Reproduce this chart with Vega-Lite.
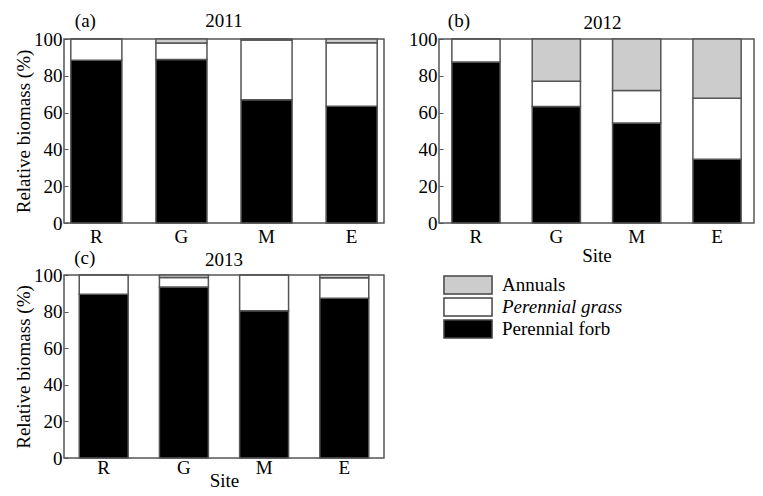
{
  "$schema": "https://vega.github.io/schema/vega-lite/v6.json",
  "background": "white",
  "padding": {"left": 13, "top": 11, "right": 0, "bottom": 0},
  "config": {
    "font": "Liberation Serif, Times New Roman, Times, serif",
    "view": {"stroke": "#555", "strokeWidth": 1.5},
    "axis": {"labelFontSize": 19, "titleFontSize": 19, "titleFontWeight": "normal", "labelColor": "black", "titleColor": "black", "domain": false, "grid": false, "labelFont": "Liberation Serif, Times New Roman, Times, serif", "titleFont": "Liberation Serif, Times New Roman, Times, serif", "labelOverlap": false},
    "axisY": {"tickSize": -4, "tickColor": "#555", "labelPadding": 6, "titlePadding": 0, "labelSeparation": 0},
    "axisX": {"ticks": false, "labelPadding": 4, "labelAngle": 0, "titlePadding": 0},
    "legend": {"labelFont": "Liberation Serif, Times New Roman, Times, serif"},
    "text": {"font": "Liberation Serif, Times New Roman, Times, serif", "fontSize": 19, "color": "black"}
  },
  "datasets": {
    "bio": [
      {"year": 2011, "site": "R", "group": "Perennial forb", "rank": 1, "value": 88.5},
      {"year": 2011, "site": "R", "group": "Perennial grass", "rank": 2, "value": 11.5},
      {"year": 2011, "site": "R", "group": "Annuals", "rank": 3, "value": 0},
      {"year": 2011, "site": "G", "group": "Perennial forb", "rank": 1, "value": 88.8},
      {"year": 2011, "site": "G", "group": "Perennial grass", "rank": 2, "value": 9.0},
      {"year": 2011, "site": "G", "group": "Annuals", "rank": 3, "value": 2.2},
      {"year": 2011, "site": "M", "group": "Perennial forb", "rank": 1, "value": 67.0},
      {"year": 2011, "site": "M", "group": "Perennial grass", "rank": 2, "value": 32.5},
      {"year": 2011, "site": "M", "group": "Annuals", "rank": 3, "value": 0.5},
      {"year": 2011, "site": "E", "group": "Perennial forb", "rank": 1, "value": 63.4},
      {"year": 2011, "site": "E", "group": "Perennial grass", "rank": 2, "value": 34.6},
      {"year": 2011, "site": "E", "group": "Annuals", "rank": 3, "value": 2.0},
      {"year": 2012, "site": "R", "group": "Perennial forb", "rank": 1, "value": 87.5},
      {"year": 2012, "site": "R", "group": "Perennial grass", "rank": 2, "value": 12.5},
      {"year": 2012, "site": "R", "group": "Annuals", "rank": 3, "value": 0},
      {"year": 2012, "site": "G", "group": "Perennial forb", "rank": 1, "value": 63.3},
      {"year": 2012, "site": "G", "group": "Perennial grass", "rank": 2, "value": 13.7},
      {"year": 2012, "site": "G", "group": "Annuals", "rank": 3, "value": 23.0},
      {"year": 2012, "site": "M", "group": "Perennial forb", "rank": 1, "value": 54.3},
      {"year": 2012, "site": "M", "group": "Perennial grass", "rank": 2, "value": 17.7},
      {"year": 2012, "site": "M", "group": "Annuals", "rank": 3, "value": 28.0},
      {"year": 2012, "site": "E", "group": "Perennial forb", "rank": 1, "value": 34.6},
      {"year": 2012, "site": "E", "group": "Perennial grass", "rank": 2, "value": 33.2},
      {"year": 2012, "site": "E", "group": "Annuals", "rank": 3, "value": 32.2},
      {"year": 2013, "site": "R", "group": "Perennial forb", "rank": 1, "value": 89.5},
      {"year": 2013, "site": "R", "group": "Perennial grass", "rank": 2, "value": 10.5},
      {"year": 2013, "site": "R", "group": "Annuals", "rank": 3, "value": 0},
      {"year": 2013, "site": "G", "group": "Perennial forb", "rank": 1, "value": 93.5},
      {"year": 2013, "site": "G", "group": "Perennial grass", "rank": 2, "value": 5.2},
      {"year": 2013, "site": "G", "group": "Annuals", "rank": 3, "value": 1.3},
      {"year": 2013, "site": "M", "group": "Perennial forb", "rank": 1, "value": 80.5},
      {"year": 2013, "site": "M", "group": "Perennial grass", "rank": 2, "value": 19.5},
      {"year": 2013, "site": "M", "group": "Annuals", "rank": 3, "value": 0},
      {"year": 2013, "site": "E", "group": "Perennial forb", "rank": 1, "value": 87.3},
      {"year": 2013, "site": "E", "group": "Perennial grass", "rank": 2, "value": 11.2},
      {"year": 2013, "site": "E", "group": "Annuals", "rank": 3, "value": 1.5}
    ],
    "tags": [
      {"panel": "a", "tag": "(a)", "title": "2011"},
      {"panel": "b", "tag": "(b)", "title": "2012"},
      {"panel": "c", "tag": "(c)", "title": "2013"}
    ]
  },
  "columns": 2,
  "bounds": "flush",
  "spacing": {"row": 52, "column": 55},
  "resolve": {"scale": {"color": "independent", "x": "independent", "y": "independent"}, "legend": {"color": "independent"}},
  "concat": [
    {
      "width": 320, "height": 184,
      "resolve": {"axis": {"x": "independent", "y": "independent"}},
      "layer": [
        {
          "data": {"name": "bio"},
          "transform": [{"filter": "datum.year == 2011"}],
          "mark": {"type": "bar", "stroke": "#555", "strokeWidth": 1.5},
          "encoding": {
            "x": {"field": "site", "type": "nominal", "sort": ["R", "G", "M", "E"], "scale": {"paddingInner": 0.4, "paddingOuter": 0.08}, "axis": {"title": null}},
            "y": {"field": "value", "type": "quantitative", "stack": "zero", "scale": {"domain": [0, 100], "nice": false}, "axis": {"title": "Relative biomass (%)", "values": [0, 20, 40, 60, 80, 100], "labelOverlap": false}},
            "color": {"field": "group", "type": "nominal", "scale": {"domain": ["Annuals", "Perennial grass", "Perennial forb"], "range": ["#cccccc", "#ffffff", "#000000"]}, "legend": null},
            "order": {"field": "rank", "type": "quantitative"}
          }
        },
        {
          "data": {"name": "tags"},
          "transform": [{"filter": "datum.panel == 'a'"}],
          "mark": {"type": "text", "align": "left", "baseline": "alphabetic", "dx": 4},
          "encoding": {"x": {"datum": "R", "bandPosition": 0, "axis": null}, "y": {"datum": 106.5, "axis": null}, "text": {"field": "tag"}}
        },
        {
          "data": {"name": "tags"},
          "transform": [{"filter": "datum.panel == 'a'"}],
          "mark": {"type": "text", "align": "center", "baseline": "alphabetic"},
          "encoding": {"x": {"datum": "G", "bandPosition": 1.333, "axis": null}, "y": {"datum": 106.5, "axis": null}, "text": {"field": "title"}}
        }
      ]
    },
    {
      "width": 315, "height": 184,
      "resolve": {"axis": {"x": "independent", "y": "independent"}},
      "layer": [
        {
          "data": {"name": "bio"},
          "transform": [{"filter": "datum.year == 2012"}],
          "mark": {"type": "bar", "stroke": "#555", "strokeWidth": 1.5},
          "encoding": {
            "x": {"field": "site", "type": "nominal", "sort": ["R", "G", "M", "E"], "scale": {"paddingInner": 0.4, "paddingOuter": 0.16}, "axis": {"title": "Site"}},
            "y": {"field": "value", "type": "quantitative", "stack": "zero", "scale": {"domain": [0, 100], "nice": false}, "axis": {"title": null, "values": [0, 20, 40, 60, 80, 100], "labelOverlap": false}},
            "color": {"field": "group", "type": "nominal", "scale": {"domain": ["Annuals", "Perennial grass", "Perennial forb"], "range": ["#cccccc", "#ffffff", "#000000"]}, "legend": null},
            "order": {"field": "rank", "type": "quantitative"}
          }
        },
        {
          "data": {"name": "tags"},
          "transform": [{"filter": "datum.panel == 'b'"}],
          "mark": {"type": "text", "align": "left", "baseline": "alphabetic", "dx": -4},
          "encoding": {"x": {"datum": "R", "bandPosition": 0, "axis": null}, "y": {"datum": 106.5, "axis": null}, "text": {"field": "tag"}}
        },
        {
          "data": {"name": "tags"},
          "transform": [{"filter": "datum.panel == 'b'"}],
          "mark": {"type": "text", "align": "center", "baseline": "alphabetic", "dx": 6},
          "encoding": {"x": {"datum": "G", "bandPosition": 1.333, "axis": null}, "y": {"datum": 105.5, "axis": null}, "text": {"field": "title"}}
        }
      ]
    },
    {
      "width": 320, "height": 183,
      "resolve": {"axis": {"x": "independent", "y": "independent"}},
      "layer": [
        {
          "data": {"name": "bio"},
          "transform": [{"filter": "datum.year == 2013"}],
          "mark": {"type": "bar", "stroke": "#555", "strokeWidth": 1.5},
          "encoding": {
            "x": {"field": "site", "type": "nominal", "sort": ["R", "G", "M", "E"], "scale": {"paddingInner": 0.39, "paddingOuter": 0.19}, "axis": {"title": "Site", "labelPadding": 0, "titlePadding": -6}},
            "y": {"field": "value", "type": "quantitative", "stack": "zero", "scale": {"domain": [0, 100], "nice": false}, "axis": {"title": "Relative biomass (%)", "values": [0, 20, 40, 60, 80, 100], "labelOverlap": false}},
            "color": {
              "field": "group", "type": "nominal",
              "scale": {"domain": ["Annuals", "Perennial grass", "Perennial forb"], "range": ["#cccccc", "#ffffff", "#000000"]},
              "legend": {
                "orient": "right", "offset": 74, "title": null, "padding": 0,
                "symbolType": "M-2.67,-1H2.67V1H-2.67Z", "symbolSize": 324,
                "symbolStrokeColor": "#444", "symbolStrokeWidth": 1.5, "symbolOpacity": 1,
                "rowPadding": -5, "labelFontSize": 19, "labelFont": "Liberation Serif, Times New Roman, Times, serif", "labelColor": "black", "labelOffset": 24,
                "labelLimit": 300,
                "labelFontStyle": {"expr": "datum.label == 'Perennial grass' ? 'italic' : 'normal'"}
              }
            },
            "order": {"field": "rank", "type": "quantitative"}
          }
        },
        {
          "data": {"name": "tags"},
          "transform": [{"filter": "datum.panel == 'c'"}],
          "mark": {"type": "text", "align": "left", "baseline": "alphabetic", "dx": -5},
          "encoding": {"x": {"datum": "R", "bandPosition": 0, "axis": null}, "y": {"datum": 106, "axis": null}, "text": {"field": "tag"}}
        },
        {
          "data": {"name": "tags"},
          "transform": [{"filter": "datum.panel == 'c'"}],
          "mark": {"type": "text", "align": "center", "baseline": "alphabetic"},
          "encoding": {"x": {"datum": "G", "bandPosition": 1.32, "axis": null}, "y": {"datum": 105, "axis": null}, "text": {"field": "title"}}
        }
      ]
    }
  ]
}
